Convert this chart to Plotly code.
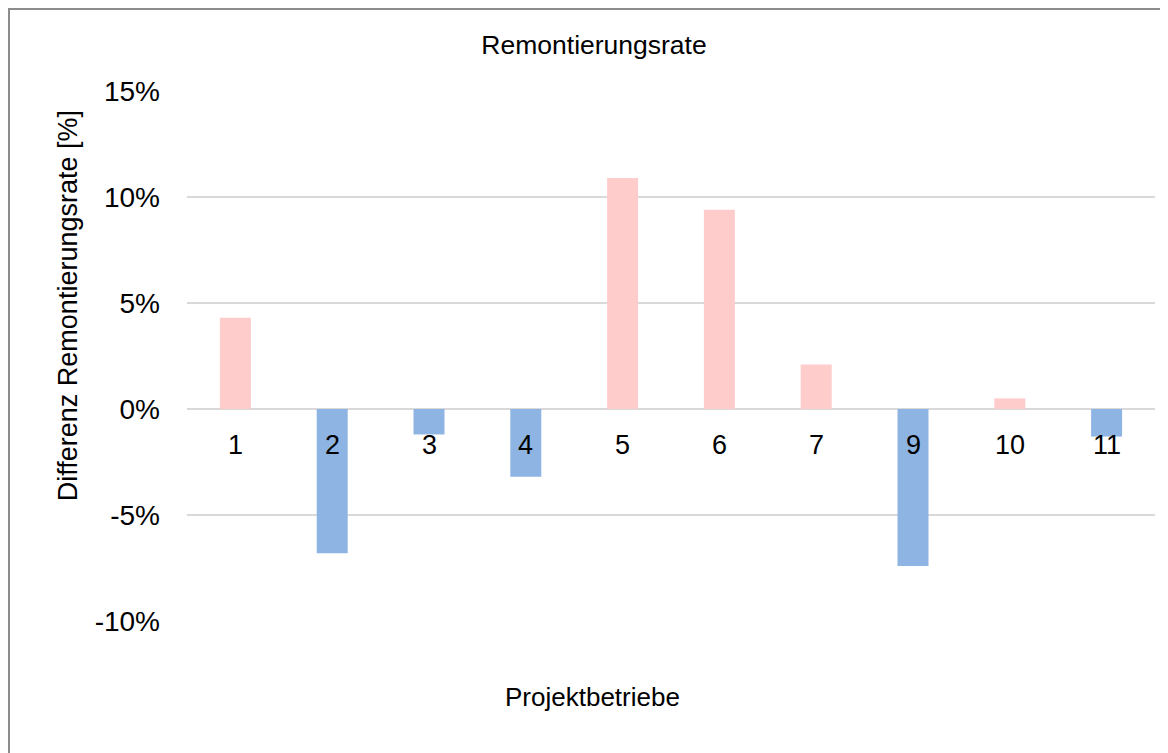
import plotly.graph_objects as go

# Projektbetriebe (8 fehlt)
betriebe = ["1", "2", "3", "4", "5", "6", "7", "9", "10", "11"]
differenz = [0.043, -0.068, -0.012, -0.032, 0.109, 0.094, 0.021, -0.074, 0.005, -0.013]

y_ticks = [-0.10, -0.05, 0.0, 0.05, 0.10, 0.15]
y_labels = ["-10%", "-5%", "0%", "5%", "10%", "15%"]

pink = "#FFCCCC"
blau = "#8EB4E3"
farben = [pink if v >= 0 else blau for v in differenz]

schrift = "Liberation Sans, Arial, sans-serif"

fig = go.Figure()
fig.add_trace(go.Bar(x=betriebe, y=differenz, marker=dict(color=farben, line=dict(width=0)),
                     showlegend=False))

# Kategoriebeschriftung direkt unter der Nulllinie (Position = Index der Kategorie)
for i, b in enumerate(betriebe):
    fig.add_annotation(x=i, y=0, text=b, showarrow=False, yanchor="middle", yshift=-36,
                       font=dict(size=27, color="#000000", family=schrift))

fig.add_annotation(xref="paper", yref="paper", x=0.4194, y=-0.1434, text="Projektbetriebe",
                   showarrow=False, xanchor="center", yanchor="middle",
                   font=dict(size=26, color="#000000", family=schrift))
fig.add_annotation(xref="paper", yref="paper", x=-0.1229, y=0.594,
                   text="Differenz Remontierungsrate [%]", textangle=-90,
                   showarrow=False, xanchor="center", yanchor="middle",
                   font=dict(size=27, color="#000000", family=schrift))

# Rahmen (linke und obere Kante liegen am Rand der Figur)
fig.add_shape(type="rect", xref="paper", yref="paper", x0=-0.1839, y0=-0.5, x1=1.2, y1=1.1547,
              line=dict(color="#8c8c8c", width=2), layer="below")

# Seite hat 8px Rand -> Figur etwas kleiner
fig.update_layout(
    width=1160, height=745,
    margin=dict(l=179, r=13, t=83, b=132),
    paper_bgcolor="white", plot_bgcolor="white",
    bargap=0.68,
    title=dict(text="Remontierungsrate", x=0.5052, y=0.9503, xanchor="center", yanchor="middle",
               xref="container", yref="container",
               font=dict(size=26.5, color="#000000", family=schrift)),
    font=dict(family=schrift, color="#000000"),
)
fig.update_xaxes(showticklabels=False, showgrid=False, showline=False, ticks="")
fig.update_yaxes(range=[-0.10, 0.15], tickvals=y_ticks, ticktext=y_labels,
                 showgrid=True, gridcolor="#d9d9d9", gridwidth=1.5,
                 zeroline=True, zerolinecolor="#d9d9d9", zerolinewidth=1.5,
                 showline=False, ticks="", ticklabelstandoff=26,
                 tickfont=dict(size=28, color="#000000", family=schrift))

fig.write_html("out.html")
